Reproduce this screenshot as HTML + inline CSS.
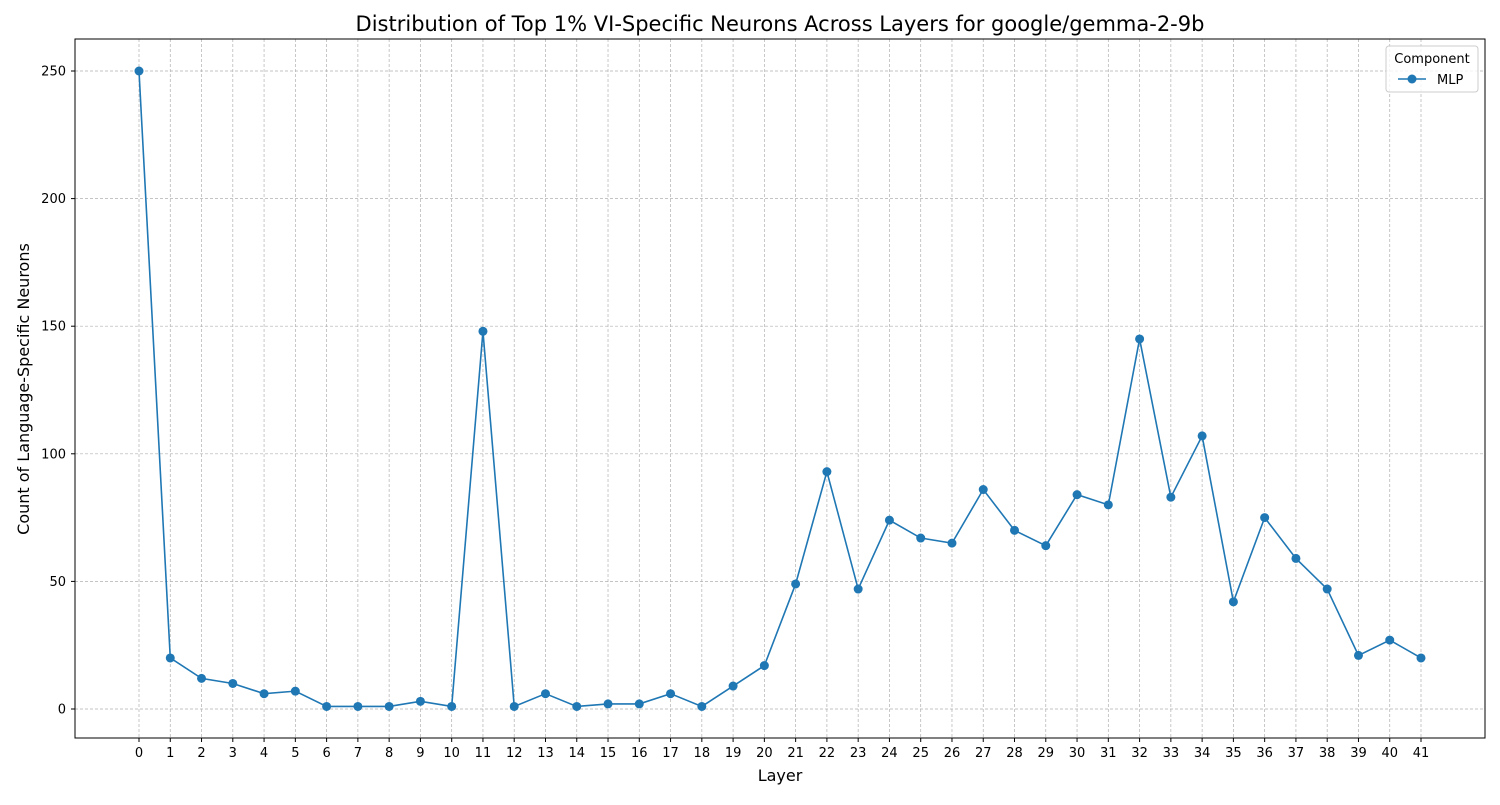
<!DOCTYPE html>
<html><head><meta charset="utf-8"><style>
body{margin:0;background:#fff;font-family:"Liberation Sans","DejaVu Sans",sans-serif;}
svg text{font-family:"DejaVu Sans","Liberation Sans",sans-serif;}
</style></head><body>
<svg id="chart" width="1500" height="800">
<text x="780" y="31" font-size="21" text-anchor="middle">Distribution of Top 1% VI-Specific Neurons Across Layers for google/gemma-2-9b</text>
<g id="grid"></g>
<g id="axes"></g>
<rect x="75" y="39" width="1410" height="699" fill="none" stroke="#000" stroke-width="1"/>
<g id="series"></g>
<text x="780" y="781" font-size="16" text-anchor="middle">Layer</text>
<text transform="translate(29,389) rotate(-90)" font-size="16" text-anchor="middle">Count of Language-Specific Neurons</text>
<g>
<rect x="1386" y="46" width="92" height="46" rx="3" fill="#fff" fill-opacity="0.8" stroke="#ccc"/>
<text x="1432" y="63" font-size="13" text-anchor="middle">Component</text>
<line x1="1398" y1="79" x2="1426" y2="79" stroke="#1f77b4" stroke-width="1.5"/>
<circle cx="1412" cy="79" r="4.5" fill="#1f77b4"/>
<text x="1437" y="84" font-size="13">MLP</text>
</g>
</svg>
<script>
const layers=[0,1,2,3,4,5,6,7,8,9,10,11,12,13,14,15,16,17,18,19,20,21,22,23,24,25,26,27,28,29,30,31,32,33,34,35,36,37,38,39,40,41];
const mlpCounts=[250,20,12,10,6,7,1,1,1,3,1,148,1,6,1,2,2,6,1,9,17,49,93,47,74,67,65,86,70,64,84,80,145,83,107,42,75,59,47,21,27,20];
const yTicks=[0,50,100,150,200,250];
const NS="http://www.w3.org/2000/svg";
const xs=v=>139+(v-0)*(1421-139)/41;
const ys=v=>709-v*(709-71)/250;
function mk(t,a,p){const e=document.createElementNS(NS,t);for(const k in a)e.setAttribute(k,a[k]);p.appendChild(e);return e;}
const grid=document.getElementById('grid'),axes=document.getElementById('axes'),ser=document.getElementById('series');
layers.forEach(l=>{
  const gl=mk('line',{x1:xs(l),x2:xs(l),y1:39,y2:738,stroke:'#b0b0b0','stroke-width':0.7,'stroke-dasharray':'3,2'},grid);
  
  
  mk('line',{x1:xs(l),x2:xs(l),y1:738,y2:742,stroke:'#000'},axes);
  const t=mk('text',{x:xs(l),y:757,'font-size':13,'text-anchor':'middle'},axes);
  t.textContent=l;
  
  
});
yTicks.forEach(v=>{
  const gl=mk('line',{x1:75,x2:1485,y1:ys(v),y2:ys(v),stroke:'#b0b0b0','stroke-width':0.7,'stroke-dasharray':'3,2'},grid);
  
  
  mk('line',{x1:71,x2:75,y1:ys(v),y2:ys(v),stroke:'#000'},axes);
  const t=mk('text',{x:66,y:ys(v)+4.5,'font-size':13,'text-anchor':'end'},axes);
  t.textContent=v;
  
  
});
const pl=mk('polyline',{points:layers.map((l,i)=>xs(l)+','+ys(mlpCounts[i])).join(' '),fill:'none',stroke:'#1f77b4','stroke-width':1.6},ser);


layers.forEach((l,i)=>{
  const c=mk('circle',{cx:xs(l),cy:ys(mlpCounts[i]),r:4.5,fill:'#1f77b4'},ser);
  
  
});
</script>
</body></html>
